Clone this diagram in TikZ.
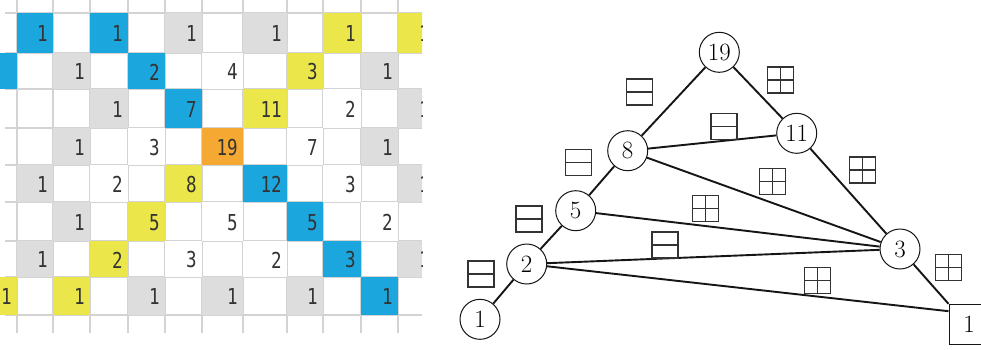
\documentclass[tikz,border=0pt]{standalone}
\usepackage{fontspec}
\usepackage{graphicx}
\newfontfamily\gridfont{DejaVu Sans Mono}
\usetikzlibrary{calc}
\definecolor{cB}{HTML}{1BA7DE}
\definecolor{cY}{HTML}{EBE74B}
\definecolor{cG}{HTML}{DDDDDD}
\definecolor{cO}{HTML}{F5A832}
\definecolor{gline}{HTML}{D3D3D3}
\definecolor{numc}{HTML}{333333}
\definecolor{edgec}{HTML}{151515}
\definecolor{labc}{HTML}{333333}
\begin{document}
\begin{tikzpicture}[x=1bp,y=-1bp,
  gnum/.style={inner sep=0pt, text=numc, font=\gridfont\fontsize{22}{22}\selectfont},
  vtx/.style={circle, draw=edgec, line width=1bp, minimum size=40bp, inner sep=0pt, font=\fontsize{25}{25}\selectfont},
  sqvtx/.style={rectangle, draw=edgec, line width=1bp, minimum size=40bp, inner sep=0pt, font=\fontsize{25}{25}\selectfont},
  edge/.style={draw=edgec, line width=1.9bp},
  hlab/.style={rectangle, draw=labc, line width=1.1bp, minimum size=26bp, inner sep=0pt,
    path picture={\draw[labc, line width=1.1bp] (path picture bounding box.west) -- (path picture bounding box.east);}},
  qlab/.style={rectangle, draw=labc, line width=1.1bp, minimum size=26bp, inner sep=0pt,
    path picture={\draw[labc, line width=1.1bp] (path picture bounding box.west) -- (path picture bounding box.east)
      (path picture bounding box.north) -- (path picture bounding box.south);}}
]
\useasboundingbox (0,0) rectangle (981,349);
\fill[white] (0,0) rectangle (981,349);

% ---------- grid picture ----------
\def\colB{{-20,17,53,90,128,165,202,243,287,323,361,398,435}}
\def\rowB{{13,53,89,128,165,202,241,277,315}}
\begin{scope}
\clip (0,0) rectangle (422,349);
% grid lines
\foreach \xx in {17,53,90,128,165,202,243,287,323,361,398}
  \draw[gline, line width=1.8bp] (\xx,0) -- (\xx,333);
\foreach \yy in {13,53,89,128,165,202,241,277,315}
  \draw[gline, line width=1.8bp] (5,\yy) -- (422,\yy);
% cells
\foreach \c/\r/\cc/\n in {
  0/0/cB/1, 2/0/cB/1, 4/0/cG/1, 6/0/cG/1, 8/0/cY/1, 10/0/cY/1,
  -1/1/cB/{}, 1/1/cG/1, 3/1/cB/2, 5/1/white/4, 7/1/cY/3, 9/1/cG/1,
  2/2/cG/1, 4/2/cB/7, 6/2/cY/11, 8/2/white/2, 10/2/cG/1,
  1/3/cG/1, 3/3/white/3, 5/3/cO/19, 7/3/white/7, 9/3/cG/1,
  0/4/cG/1, 2/4/white/2, 4/4/cY/8, 6/4/cB/12, 8/4/white/3, 10/4/cG/1,
  1/5/cG/1, 3/5/cY/5, 5/5/white/5, 7/5/cB/5, 9/5/white/2,
  0/6/cG/1, 2/6/cY/2, 4/6/white/3, 6/6/white/2, 8/6/cB/3, 10/6/cG/1,
  -1/7/cY/1, 1/7/cY/1, 3/7/cG/1, 5/7/cG/1, 7/7/cG/1, 9/7/cB/1}{
  \pgfmathsetmacro\xa{\colB[\c+1]}
  \pgfmathsetmacro\xb{\colB[\c+2]}
  \pgfmathsetmacro\ya{\rowB[\r]}
  \pgfmathsetmacro\yb{\rowB[\r+1]}
  \fill[\cc] (\xa,\ya) rectangle (\xb,\yb);
  \node[gnum, anchor=east] (gc\c r\r) at ({\xb-5},{(\ya+\yb)/2+1}) {\scalebox{0.8}[1]{\n}};
}
\end{scope}

% ---------- graph ----------
\node[vtx] (n19) at (719.3,52.3) {19};
\node[vtx] (n11) at (796.7,133.3) {11};
\node[vtx] (n8) at (627.7,150.7) {8};
\node[vtx] (n5) at (575.7,210.7) {5};
\node[vtx] (n2) at (526.7,264) {2};
\node[vtx] (n1) at (480,319.3) {1};
\node[vtx] (n3) at (900,249) {3};
\node[sqvtx] (sq) at (969,324.3) {1};
\coordinate (sqin) at ($(sq.north west)+(0,7.4)$);

\draw[edge] (n1) -- (n2);
\draw[edge] (n2) -- (n5);
\draw[edge] (n5) -- (n8);
\draw[edge] (n8) -- (n19);
\draw[edge] (n19) -- (n11);
\draw[edge] (n11) -- (n3);
\draw[edge] (n3) -- (sq.north west);
\draw[edge] (n8) -- (n11);
\draw[edge] (n8) -- (n3);
\draw[edge] (n5) -- (n3);
\draw[edge] (n2) -- (n3);
\draw[edge] (n2) -- (sqin);

\node[hlab] (l819) at (639.3,92) {};
\node[hlab] (l58) at (578.3,162.3) {};
\node[hlab] (l811) at (724,126.7) {};
\node[hlab] (l25) at (529,219) {};
\node[hlab] (l12) at (481,274) {};
\node[hlab] (l23) at (665,245) {};
\node[qlab] (l1911) at (780.7,80) {};
\node[qlab] (l83) at (772.7,181.7) {};
\node[qlab] (l113) at (862.3,170) {};
\node[qlab] (l53) at (705.3,208.7) {};
\node[qlab] (l2s) at (817.7,280.7) {};
\node[qlab] (l3s) at (948.3,267.7) {};
\end{tikzpicture}
\end{document}
